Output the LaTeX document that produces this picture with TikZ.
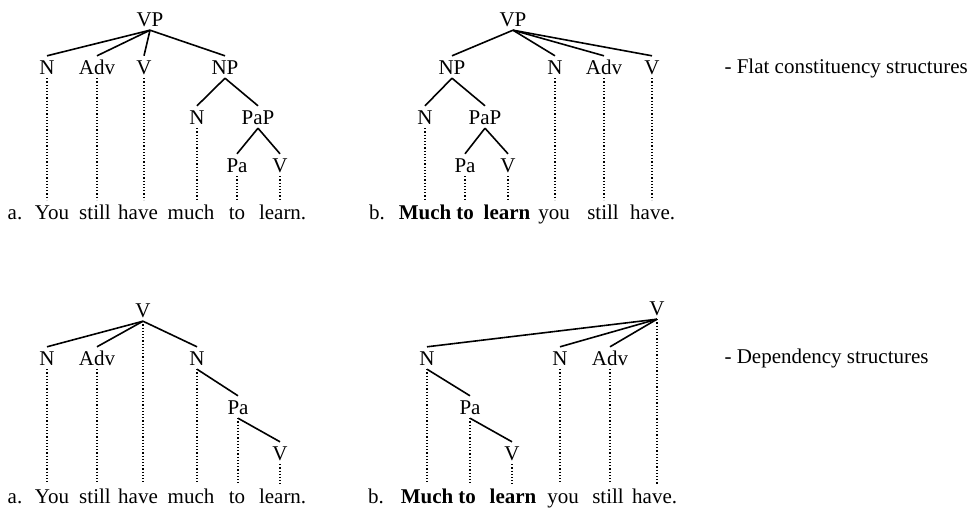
\documentclass[tikz,border=0pt]{standalone}
\usepackage{fontspec}
\setmainfont{Liberation Serif}
\begin{document}
\begin{tikzpicture}[
  x=1pt, y=-1pt,
  every node/.style={font=\fontsize{21}{25}\selectfont},
  cat/.style={inner sep=4pt, text height=14pt, text depth=0pt},
  word/.style={anchor=base, inner sep=4pt, text height=15pt, text depth=0pt},
  branch/.style={draw, line width=1.6pt},
  link/.style={draw, dotted, line width=1.2pt}
]
\useasboundingbox (0,0) rectangle (975,514);

% (a) flat constituency structure
\node[cat] (aVP)  at (150,19)  {VP};
\node[cat] (aN)   at (47,67)   {N};
\node[cat] (aAdv) at (97,67)   {Adv};
\node[cat] (aV)   at (144,67)  {V};
\node[cat] (aNP)  at (225,67)  {NP};
\node[cat] (aNn)  at (197,117) {N};
\node[cat] (aPaP) at (258,117) {PaP};
\node[cat] (aPa)  at (237,165) {Pa};
\node[cat] (aVv)  at (280,165) {V};

\node[word] (aLab)   at (15,219)  {a.};
\node[word] (aYou)   at (52,219)  {You};
\node[word] (aStill) at (95,219)  {still};
\node[word] (aHave)  at (138,219) {have};
\node[word] (aMuch)  at (191,219) {much};
\node[word] (aTo)    at (237,219) {to};
\node[word] (aLearn) at (280,219) {learn\rlap{.}};

\draw[branch] (aVP.south) -- (aN.north);
\draw[branch] (aVP.south) -- (aAdv.north);
\draw[branch] (aVP.south) -- (aV.north);
\draw[branch] (aVP.south) -- (aNP.north);
\draw[branch] (aNP.south) -- (aNn.north);
\draw[branch] (aNP.south) -- (aPaP.north);
\draw[branch] (aPaP.south) -- (aPa.north);
\draw[branch] (aPaP.south) -- (aVv.north);

\draw[link] (aN.south)   -- (aN.south |- aYou.north);
\draw[link] (aAdv.south) -- (aAdv.south |- aStill.north);
\draw[link] (aV.south)   -- (aV.south |- aHave.north);
\draw[link] (aNn.south)  -- (aNn.south |- aMuch.north);
\draw[link] (aPa.south)  -- (aPa.south |- aTo.north);
\draw[link] (aVv.south)  -- (aVv.south |- aLearn.north);

% (b) flat constituency structure
\node[cat] (bVP)  at (513,19)  {VP};
\node[cat] (bNP)  at (452,67)  {NP};
\node[cat] (bN)   at (555,67)  {N};
\node[cat] (bAdv) at (604,67)  {Adv};
\node[cat] (bV)   at (652,67)  {V};
\node[cat] (bNn)  at (425,117) {N};
\node[cat] (bPaP) at (485,117) {PaP};
\node[cat] (bPa)  at (465,165) {Pa};
\node[cat] (bVv)  at (508,165) {V};

\node[word] (bLab)   at (377,219) {b.};
\node[word] (bMuch)  at (425,219) {\bfseries Much};
\node[word] (bTo)    at (465,219) {\bfseries to};
\node[word] (bLearn) at (507,219) {\bfseries learn};
\node[word] (bYou)   at (554,219) {you};
\node[word] (bStill) at (603,219) {still};
\node[word] (bHave)  at (650,219) {have\rlap{.}};

\draw[branch] (bVP.south) -- (bNP.north);
\draw[branch] (bVP.south) -- (bN.north);
\draw[branch] (bVP.south) -- (bAdv.north);
\draw[branch] (bVP.south) -- (bV.north);
\draw[branch] (bNP.south) -- (bNn.north);
\draw[branch] (bNP.south) -- (bPaP.north);
\draw[branch] (bPaP.south) -- (bPa.north);
\draw[branch] (bPaP.south) -- (bVv.north);

\draw[link] (bNn.south)  -- (bNn.south |- bMuch.north);
\draw[link] (bPa.south)  -- (bPa.south |- bTo.north);
\draw[link] (bVv.south)  -- (bVv.south |- bLearn.north);
\draw[link] (bN.south)   -- (bN.south |- bYou.north);
\draw[link] (bAdv.south) -- (bAdv.south |- bStill.north);
\draw[link] (bV.south)   -- (bV.south |- bHave.north);

\node[anchor=west] (flat) at (721,68) {- Flat constituency structures};

% (a) dependency structure
\node[cat] (cV)   at (143,310) {V};
\node[cat] (cN)   at (47,358)  {N};
\node[cat] (cAdv) at (97,358)  {Adv};
\node[cat] (cNn)  at (197,358) {N};
\node[cat] (cPa)  at (238,407) {Pa};
\node[cat] (cVv)  at (280,453) {V};

\node[word] (cLab)   at (15,503)  {a.};
\node[word] (cYou)   at (52,503)  {You};
\node[word] (cStill) at (95,503)  {still};
\node[word] (cHave)  at (138,503) {have};
\node[word] (cMuch)  at (191,503) {much};
\node[word] (cTo)    at (237,503) {to};
\node[word] (cLearn) at (280,503) {learn\rlap{.}};

\draw[branch] (cV.south) -- (cN.north);
\draw[branch] (cV.south) -- (cAdv.north);
\draw[branch] (cV.south) -- (cNn.north);
\draw[branch] (cNn.south) -- (cPa.north);
\draw[branch] (cPa.south) -- (cVv.north);

\draw[link] (cN.south)   -- (cN.south |- cYou.north);
\draw[link] (cAdv.south) -- (cAdv.south |- cStill.north);
\draw[link] (cV.south)   -- (cV.south |- cHave.north);
\draw[link] (cNn.south)  -- (cNn.south |- cMuch.north);
\draw[link] (cPa.south)  -- (cPa.south |- cTo.north);
\draw[link] (cVv.south)  -- (cVv.south |- cLearn.north);

% (b) dependency structure
\node[cat] (dV)   at (657,308) {V};
\node[cat] (dN)   at (427,358) {N};
\node[cat] (dNn)  at (560,358) {N};
\node[cat] (dAdv) at (610,358) {Adv};
\node[cat] (dPa)  at (470,407) {Pa};
\node[cat] (dVv)  at (512,453) {V};

\node[word] (dLab)   at (376,503) {b.};
\node[word] (dMuch)  at (427,503) {\bfseries Much};
\node[word] (dTo)    at (467,503) {\bfseries to};
\node[word] (dLearn) at (513,503) {\bfseries learn};
\node[word] (dYou)   at (563,503) {you};
\node[word] (dStill) at (608,503) {still};
\node[word] (dHave)  at (652,503) {have\rlap{.}};

\draw[branch] (dV.south) -- (dN.north);
\draw[branch] (dV.south) -- (dNn.north);
\draw[branch] (dV.south) -- (dAdv.north);
\draw[branch] (dN.south) -- (dPa.north);
\draw[branch] (dPa.south) -- (dVv.north);

\draw[link] (dN.south)   -- (dN.south |- dMuch.north);
\draw[link] (dPa.south)  -- (dPa.south |- dTo.north);
\draw[link] (dVv.south)  -- (dVv.south |- dLearn.north);
\draw[link] (dNn.south)  -- (dNn.south |- dYou.north);
\draw[link] (dAdv.south) -- (dAdv.south |- dStill.north);
\draw[link] (dV.south)   -- (dV.south |- dHave.north);

\node[anchor=west] (dep) at (721,358) {- Dependency structures};
\end{tikzpicture}
\end{document}
